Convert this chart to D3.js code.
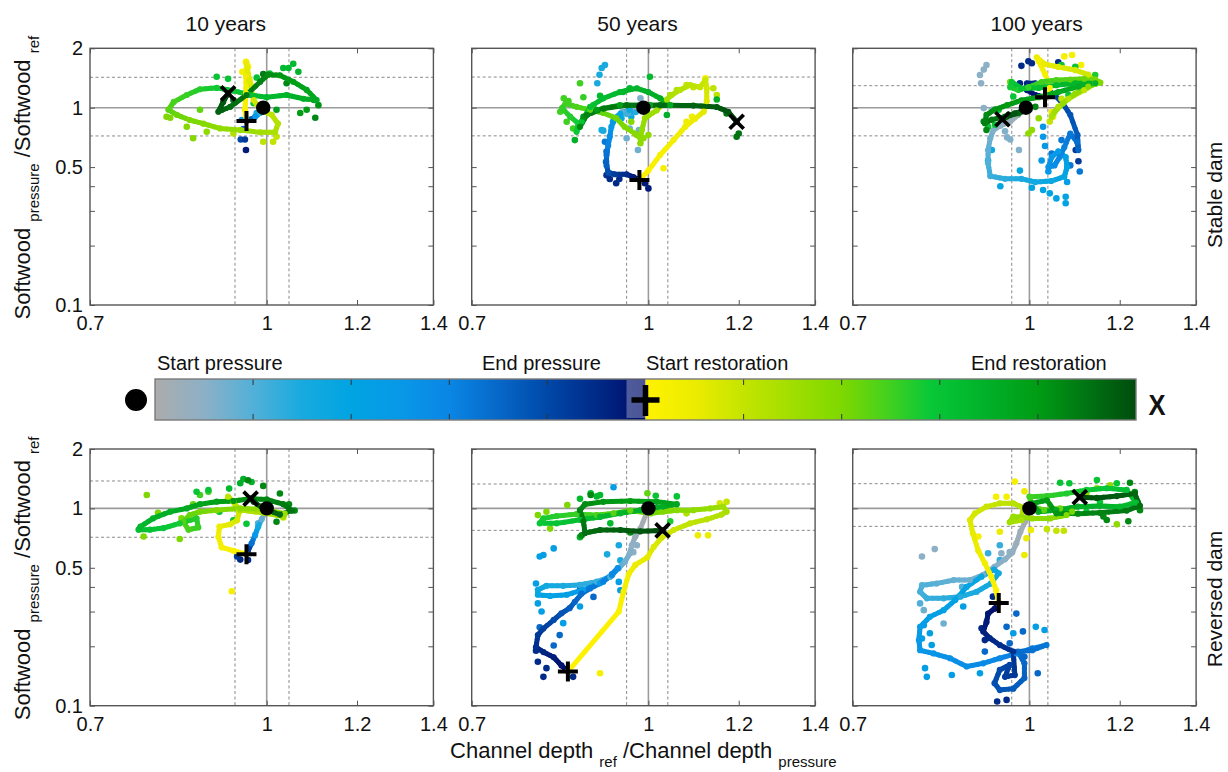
<!DOCTYPE html>
<html><head><meta charset="utf-8">
<script src="https://cdn.jsdelivr.net/npm/d3@7"></script>
<style>
body{margin:0;background:#fff}
text{font-family:"Liberation Sans",Arial,Helvetica,sans-serif;fill:#111}
</style>
</head><body>
<svg id="c" width="1228" height="772"></svg>
<script>
// ---------- axis / label data ----------
const xTicks = [0.7, 1, 1.2, 1.4];
const yTicks = [0.1, 0.2, 0.3, 0.4, 0.5, 1, 2];
const yTickLabels = [0.1, 0.5, 1, 2];
const columnTitles = ["10 years", "50 years", "100 years"];
const rowLabels = ["Stable dam", "Reversed dam"];
const colorbarLabels = ["Start pressure", "End pressure", "Start restoration", "End restoration"];

// colour scale stops (time fraction within phase)
const pressureStopPos = [0, 0.1, 0.2, 0.3, 0.4, 0.5, 0.6, 0.7, 0.8, 0.9, 1];
const pressureStopColors = ["#acacac","#8cb0c6","#52b0d8","#18aadf","#00a4e2","#0898e8","#0a86e4","#0668c8","#0048a8","#002a88","#000a66"];
const restorationStopPos = [0, 0.1, 0.2, 0.3, 0.4, 0.5, 0.58, 0.7, 0.8, 0.9, 1];
const restorationStopColors = ["#fff200","#ecec00","#c4e400","#a0de00","#7ed800","#40d020","#08c838","#00b028","#009c14","#007412","#004c0e"];

// reference bands (dashed) per panel: [low, high]
const refXBands = [[0.938,1.046],[0.957,1.040],[0.965,1.038],[0.938,1.046],[0.957,1.040],[0.965,1.038]];
const refYBands = [[0.719,1.426],[0.72,1.43],[0.72,1.293],[0.714,1.377],[0.774,1.329],[0.811,1.334]];

// ---------- Stable dam, 10 years ----------
const stable10Markers = [[0.993,1.0],[0.96,0.856],[0.925,1.183]];
const stable10Pressure = [[0.993,1.0],[0.987,0.94],[0.977,0.90],[0.967,0.87],[0.96,0.856]];
const stable10PressureDots = [[0.98,0.94,0.3],[0.951,0.866,0.5],[0.954,0.78,0.7],[0.949,0.69,0.8],[0.957,0.69,0.85],[0.959,0.61,0.95]];
const stable10Restoration = [[0.96,0.856],[0.957,0.977],[0.959,1.183],[0.959,1.436],[0.96,1.679],[0.966,1.38],[0.974,1.094],[0.987,0.977],[1.01,0.92],[1.023,0.83],[1.017,0.75],[0.987,0.75],[0.948,0.77],[0.91,0.785],[0.88,0.83],[0.856,0.866],[0.834,0.92],[0.82,0.977],[0.829,1.07],[0.851,1.16],[0.874,1.24],[0.904,1.26],[0.935,1.22],[0.967,1.16],[1.0,1.13],[1.041,1.16],[1.077,1.11],[1.106,1.094],[1.084,1.23],[1.055,1.354],[1.027,1.46],[1.003,1.47],[0.987,1.354],[0.96,1.16],[0.929,1.01],[0.907,0.954],[0.916,1.07],[0.925,1.183]];
const stable10RestorationDots = [[0.959,1.71,0.05],[0.963,1.61,0.05],[0.952,1.52,0.05],[0.967,1.33,0.08],
[1.02,0.713,0.2],[1.013,0.672,0.2],[0.993,0.672,0.22],[0.935,0.74,0.25],
[0.817,0.9,0.4],[0.823,0.89,0.4],[0.862,0.70,0.38],[0.851,0.80,0.38],[0.886,0.755,0.35],[0.874,0.977,0.45],
[0.904,1.436,0.6],[0.925,1.40,0.6],[0.98,1.42,0.62],[1.034,1.59,0.65],[1.045,1.59,0.65],[1.055,1.67,0.65],[1.066,1.52,0.68],[1.006,1.49,0.62],[0.974,1.053,0.58],
[1.1,1.094,0.8],[1.11,1.03,0.82],[1.103,0.89,0.85],[1.084,0.977,0.8],[1.07,0.94,0.8],[1.041,1.33,0.85],[1.02,0.977,0.78],[0.993,1.48,0.88],[0.935,1.094,0.9]];

// ---------- Stable dam, 50 years ----------
const stable50Markers = [[0.99,1.0],[0.982,0.43],[1.195,0.849]];
const stable50Pressure = [[0.99,1.0],[0.975,0.98],[0.96,0.96],[0.948,0.95],[0.958,0.93],[0.975,0.95],[0.962,0.975],[0.945,0.93],[0.934,0.885],[0.928,0.80],[0.925,0.713],[0.922,0.643],[0.919,0.576],[0.919,0.51],[0.922,0.47],[0.934,0.46],[0.957,0.46],[0.97,0.445],[0.982,0.43]];
const stable50PressureDots = [[0.984,1.116,0.12],[0.981,0.77,0.15],[0.957,0.70,0.15],[0.979,0.61,0.15],[0.963,0.785,0.15],
[0.91,1.59,0.3],[0.916,1.646,0.3],[0.906,1.47,0.3],[0.902,1.33,0.3],[0.91,0.77,0.3],[0.913,0.765,0.3],[0.947,0.885,0.35],[0.931,0.849,0.35],[0.957,0.935,0.35],[0.966,0.90,0.35],
[0.919,0.60,0.7],[0.918,0.532,0.72],[0.916,0.672,0.65],
[0.925,0.435,0.9],[0.937,0.414,0.9],[0.943,0.435,0.9],[1.0,0.39,0.95],[0.993,0.414,0.95],[0.919,0.455,0.88]];
const stable50Restoration = [[0.982,0.43],[1.0,0.48],[1.024,0.576],[1.052,0.685],[1.077,0.80],[1.099,0.88],[1.118,0.954],[1.125,1.08],[1.125,1.254],[1.122,1.382],
[1.11,1.27],[1.088,1.303],[1.066,1.23],[1.048,1.16],[1.038,1.10],
[1.017,0.97],[0.993,0.885],[0.987,0.77],[0.984,0.70],[0.973,0.74],[0.953,0.80],[0.937,0.885],
[0.913,0.94],[0.889,0.975],[0.865,1.01],[0.846,1.05],[0.84,0.995],[0.854,0.90],[0.868,0.833],[0.865,0.755],
[0.874,0.849],[0.889,1.01],[0.913,1.116],[0.944,1.20],[0.977,1.254],[1.0,1.20],[1.024,1.116],[1.045,1.03],
[1.003,1.03],[0.944,1.03],[0.901,0.975],[0.877,0.90],[0.871,0.80],[0.883,0.918],[0.913,0.99],[0.957,1.03],[1.024,1.03],[1.095,1.025],[1.148,1.008],[1.175,0.954],[1.195,0.849]];
const stable50RestorationDots = [[1.122,1.41,0.05],[1.031,0.493,0.05],[1.092,0.90,0.08],[1.08,0.849,0.08],
[1.08,1.303,0.2],[1.095,1.27,0.2],[1.14,1.254,0.22],[1.148,1.16,0.22],[1.059,1.23,0.25],[1.045,1.16,0.25],
[0.99,0.70,0.35],[0.984,0.66,0.35],[1.0,0.727,0.35],[0.977,0.727,0.38],[0.966,0.849,0.38],[0.997,0.94,0.35],
[0.843,1.116,0.5],[0.851,1.08,0.5],[0.837,0.954,0.5],[0.848,0.849,0.5],[0.859,0.785,0.5],[0.871,1.33,0.5],[0.877,1.13,0.52],[0.895,1.03,0.52],
[1.003,1.435,0.65],[0.963,1.254,0.65],[0.95,1.20,0.65],[0.862,0.685,0.7],[0.907,1.15,0.65],[1.148,1.10,0.7],[1.038,0.918,0.7],
[1.2,0.74,0.9],[1.195,0.713,0.9],[1.171,0.935,0.9]];

// ---------- Stable dam, 100 years ----------
const stable100Markers = [[0.993,1.0],[1.032,1.13],[0.947,0.874]];
const stable100Pressure = [[0.993,1.0],[0.978,0.92],[0.962,0.85],[0.943,0.81],[0.93,0.771],[0.924,0.70],[0.92,0.61],[0.92,0.523],[0.924,0.45],[0.952,0.436],[0.984,0.436],[1.012,0.42],[1.045,0.425],[1.073,0.447],[1.079,0.50],[1.076,0.562],[1.06,0.60],[1.046,0.562],[1.039,0.50],[1.052,0.51],[1.063,0.562],[1.073,0.63],[1.086,0.74],[1.101,0.67],[1.104,0.61],[1.102,0.727],[1.086,0.92],[1.07,1.05],[1.052,1.16],[1.032,1.26],[1.012,1.33],[0.995,1.33],[0.995,1.229],[1.012,1.16],[1.032,1.13]];
const stable100PressureDots = [[0.905,1.464,0.1],[0.912,1.56,0.1],[0.917,1.646,0.1],[0.907,1.33,0.1],[0.912,0.995,0.1],[0.927,0.975,0.1],[0.956,0.707,0.12],[0.962,0.69,0.12],[0.979,0.61,0.12],[0.952,0.76,0.12],
[0.927,0.61,0.35],[0.92,0.54,0.35],[0.943,0.40,0.38],[0.981,0.48,0.38],[1.005,0.393,0.4],[1.028,0.383,0.4],[1.042,0.368,0.4],[1.056,0.347,0.42],[1.076,0.354,0.42],[1.076,0.328,0.42],[1.079,0.42,0.45],[1.028,0.80,0.5],[1.028,0.713,0.5],[1.032,0.64,0.5],[1.025,0.54,0.5],[1.039,0.475,0.5],
[1.086,0.51,0.65],[1.107,0.475,0.65],[1.067,0.685,0.65],[1.046,0.586,0.65],
[0.984,1.63,0.9],[0.998,1.72,0.9],[1.005,1.68,0.9],[1.06,1.70,0.9],[0.981,1.33,0.9],[1.104,0.535,0.85],[1.098,0.61,0.85]];
const stable100Restoration = [[1.032,1.13],[1.042,1.26],[1.032,1.48],[1.019,1.72],[1.015,1.80],[1.032,1.66],[1.06,1.61],[1.097,1.55],[1.126,1.47],[1.142,1.33],[1.117,1.229],[1.082,1.11],[1.06,1.01],[1.046,0.90],
[1.052,0.95],[1.07,1.05],[1.097,1.18],[1.126,1.28],[1.154,1.34],
[1.142,1.39],[1.117,1.40],[1.086,1.39],[1.056,1.38],[1.025,1.35],[0.998,1.27],[0.978,1.23],[0.962,1.27],[0.965,1.35],
[0.984,1.25],[1.019,1.26],[1.056,1.30],[1.097,1.33],[1.142,1.33],[1.104,1.28],[1.06,1.2],[1.019,1.13],[0.984,1.09],[0.956,1.03],[0.933,0.98],[0.917,0.92],[0.914,0.834],
[0.927,0.87],[0.952,0.9],[0.978,0.937],[0.998,0.98],[0.971,0.937],[0.947,0.874]];
const stable100RestorationDots = [[1.09,1.85,0.05],[1.11,1.646,0.05],[1.073,1.82,0.05],[1.049,0.90,0.1],[1.046,0.95,0.1],
[1.042,0.85,0.2],[1.067,1.11,0.2],
[0.998,0.74,0.35],[1.005,0.77,0.35],[1.019,0.884,0.35],[0.962,1.35,0.4],[0.968,1.30,0.4],
[0.92,0.80,0.6],[0.933,0.82,0.6],[0.94,0.975,0.6],[0.968,1.14,0.6],[1.082,1.16,0.6],[1.142,1.464,0.55],[1.067,1.646,0.6],[1.097,1.61,0.6],
[0.912,0.85,0.85],[0.917,0.771,0.85],[0.959,0.92,0.85],[1.012,1.01,0.85]];

// ---------- Reversed dam, 10 years ----------
const reversed10Markers = [[1.0,1.0],[0.96,0.585],[0.968,1.12]];
const reversed10Pressure = [[1.0,1.0],[0.99,0.88],[0.983,0.808],[0.977,0.735],[0.97,0.665],[0.963,0.61],[0.96,0.585]];
const reversed10PressureDots = [[0.983,0.84,0.2],[0.948,0.55,0.9],[0.963,0.548,0.9],[0.942,0.57,0.85]];
const reversed10Restoration = [[0.96,0.585],[0.935,0.61],[0.913,0.635],[0.907,0.718],[0.909,0.808],[0.929,0.83],[0.942,0.87],[0.946,0.962],[0.935,1.081],[0.925,1.146],
[0.948,0.98],[0.993,0.95],[1.034,0.91],[1.037,0.94],[0.993,0.99],[0.948,1.0],[0.904,0.98],
[0.874,0.962],[0.856,0.925],[0.845,0.856],[0.854,0.78],[0.871,0.80],[0.868,0.89],[0.839,0.84],[0.812,0.795],[0.79,0.78],[0.772,0.78],
[0.775,0.808],[0.795,0.89],[0.823,0.962],[0.851,1.0],[0.874,1.05],[0.904,1.081],[0.935,1.09],
[0.967,1.12],[1.0,1.11],[1.034,1.05],[1.052,0.975],[1.027,0.93],[0.993,1.0],[0.974,1.08],[0.968,1.12]];
const reversed10RestorationDots = [[0.932,0.38,0.05],[0.925,1.12,0.05],[1.034,0.90,0.2],[1.013,0.95,0.2],
[0.785,1.17,0.4],[0.803,0.95,0.4],[0.842,0.89,0.4],[0.862,1.05,0.45],[0.839,0.70,0.4],[0.78,0.72,0.4],[0.874,1.17,0.5],[0.889,1.215,0.5],
[0.868,1.215,0.6],[0.889,1.24,0.6],[0.927,1.26,0.65],[0.948,1.34,0.7],[0.954,1.41,0.7],[0.97,1.36,0.7],[0.96,0.835,0.6],[0.935,0.87,0.6],[0.909,0.962,0.6],
[1.027,1.19,0.85],[1.046,1.05,0.85],[1.058,0.975,0.85],[1.02,0.856,0.85],[0.993,1.30,0.85],[0.963,1.39,0.85]];

// ---------- Reversed dam, 50 years ----------
const reversed50Markers = [[1.0,1.0],[0.85,0.149],[1.029,0.773]];
const reversed50Pressure = [[1.0,1.0],[0.984,0.79],[0.974,0.72],[0.967,0.65],[0.963,0.59],[0.954,0.537],[0.942,0.498],
[0.926,0.45],[0.901,0.425],[0.871,0.41],[0.842,0.405],[0.814,0.405],[0.8,0.387],
[0.8,0.365],[0.82,0.36],[0.848,0.365],[0.877,0.387],[0.907,0.418],[0.929,0.458],[0.94,0.498],
[0.929,0.465],[0.913,0.425],[0.889,0.393],[0.874,0.37],[0.862,0.336],[0.853,0.312],[0.839,0.294],
[0.826,0.272],[0.809,0.246],[0.8,0.228],[0.797,0.198],[0.809,0.187],[0.826,0.176],[0.839,0.16],[0.85,0.149]];
const reversed50PressureDots = [[0.977,0.65,0.1],[0.97,0.60,0.1],
[0.942,0.65,0.3],[0.945,0.545,0.3],[0.92,0.585,0.3],
[0.932,1.28,0.45],[0.826,0.627,0.45],[0.803,0.57,0.45],[0.809,0.58,0.45],[0.797,0.416,0.45],[0.806,0.30,0.45],[0.842,0.262,0.45],[0.945,0.385,0.45],[0.8,0.33,0.45],[0.871,0.318,0.45],[0.942,0.424,0.45],
[0.803,0.25,0.7],[0.836,0.228,0.7],[0.826,0.202,0.7],[0.895,0.356,0.7],[0.871,0.40,0.7],
[0.809,0.14,0.9],[0.814,0.155,0.9],[0.859,0.14,0.9],[0.797,0.19,0.9],[0.8,0.167,0.9]];
const reversed50Restoration = [[0.85,0.149],[0.942,0.30],[0.951,0.378],[0.961,0.465],[0.974,0.517],[0.998,0.565],[1.011,0.639],[1.027,0.71],[1.052,0.777],[1.088,0.84],[1.125,0.88],[1.159,0.93],[1.171,0.962],[1.163,1.02],
[1.133,1.0],[1.095,0.98],[1.059,0.98],[1.03,0.962],
[1.005,0.944],[0.964,0.975],[0.932,0.944],[0.901,0.925],[0.865,0.935],[0.831,0.915],[0.809,0.89],[0.803,0.84],[0.831,0.84],[0.871,0.875],
[0.907,0.905],[0.945,0.944],[0.984,0.98],[1.03,1.02],[1.059,1.05],[1.017,1.08],[0.964,1.09],[0.913,1.08],[0.88,1.05],[0.871,0.98],[0.877,0.86],
[0.88,0.75],[0.907,0.777],[0.945,0.777],[0.984,0.765],[1.029,0.773]];
const reversed50RestorationDots = [[0.907,0.146,0.05],[1.105,0.73,0.1],[1.128,0.73,0.1],[1.155,1.06,0.15],
[1.171,1.08,0.2],[1.08,0.944,0.25],[1.045,0.98,0.25],
[0.814,0.962,0.4],[0.82,0.79,0.4],[0.849,1.04,0.4],[0.8,0.925,0.4],[0.998,1.193,0.45],
[0.89,1.193,0.65],[0.901,1.15,0.65],[0.907,1.17,0.65],[0.871,1.12,0.65],[1.015,1.16,0.6],[1.059,1.15,0.6],[0.926,0.84,0.65],[1.045,0.86,0.55],[0.871,0.715,0.7],
[0.874,0.73,0.85],[0.89,1.17,0.85],[0.964,0.755,0.85]];

// ---------- Reversed dam, 100 years ----------
const reversed100Markers = [[1.0,1.0],[0.94,0.332],[1.107,1.14]];
const reversed100Pressure = [[1.0,1.0],[0.992,0.86],[0.982,0.762],[0.974,0.665],[0.966,0.597],[0.952,0.552],[0.932,0.506],[0.911,0.46],[0.887,0.433],[0.858,0.433],[0.829,0.416],[0.805,0.408],[0.802,0.378],[0.813,0.35],[0.841,0.35],[0.87,0.357],[0.899,0.378],[0.925,0.416],[0.94,0.469],
[0.931,0.49],[0.908,0.451],[0.881,0.40],[0.861,0.343],[0.841,0.305],[0.818,0.282],[0.802,0.251],[0.8,0.215],[0.802,0.191],[0.824,0.184],[0.852,0.174],[0.881,0.158],[0.911,0.164],[0.942,0.174],[0.974,0.184],[1.006,0.195],[1.035,0.203],
[1.006,0.191],[0.977,0.188],[0.99,0.164],[0.99,0.138],[0.968,0.122],[0.942,0.12],[0.932,0.13],[0.942,0.152],[0.961,0.161],[0.952,0.14],[0.971,0.143],
[0.968,0.188],[0.942,0.203],[0.923,0.22],[0.911,0.238],[0.917,0.265],[0.92,0.293],[0.932,0.31],[0.94,0.332]];
const reversed100PressureDots = [[0.805,0.57,0.1],[0.826,0.622,0.1],[0.808,0.305,0.15],[0.841,0.261,0.15],[0.945,0.592,0.1],[0.961,0.60,0.1],
[0.942,0.65,0.25],[0.92,0.592,0.25],[0.942,0.548,0.25],[0.802,0.33,0.2],[0.873,0.40,0.2],
[0.808,0.256,0.45],[0.818,0.233,0.45],[0.821,0.203,0.45],[0.81,0.155,0.45],[0.813,0.14,0.45],[0.855,0.143,0.45],[0.905,0.146,0.45],[0.968,0.233,0.45],[1.013,0.251,0.45],[1.031,0.242,0.45],[0.875,0.318,0.45],[0.805,0.219,0.45],
[0.955,0.251,0.7],[0.974,0.293,0.7],[0.987,0.238,0.7],[1.017,0.146,0.7],[0.961,0.207,0.7],[0.99,0.177,0.7],[0.914,0.188,0.7],
[0.937,0.105,0.9],[0.955,0.107,0.9],[0.914,0.215,0.9],[0.908,0.247,0.9],[0.929,0.357,0.9]];
const reversed100Restoration = [[0.94,0.332],[0.935,0.385],[0.926,0.451],[0.914,0.527],[0.902,0.61],[0.892,0.748],[0.887,0.873],[0.896,0.944],[0.917,1.02],[0.942,1.061],[0.968,1.061],[0.987,1.01],
[0.984,0.873],[0.961,0.85],[0.968,0.91],[1.006,0.89],[1.043,0.89],[1.078,0.925],[1.09,0.962],
[1.064,1.0],[1.03,0.98],[1.006,1.02],
[1.0,1.146],[1.036,1.155],[1.078,1.19],[1.122,1.24],[1.169,1.265],[1.217,1.24],[1.24,1.07],[1.2,1.02],[1.153,1.03],[1.103,1.02],[1.056,0.98],[1.018,0.962],[1.006,1.061],[1.036,1.10],
[1.056,0.944],[1.103,0.94],[1.153,0.95],[1.217,0.975],[1.25,1.03],[1.237,1.19],[1.193,1.155],[1.146,1.13],[1.107,1.14]];
const reversed100RestorationDots = [[0.971,1.367,0.05],[0.935,1.146,0.05],[0.955,1.146,0.05],[0.902,0.72,0.05],[0.99,0.58,0.1],[0.994,0.706,0.1],[1.003,0.777,0.1],[0.99,1.22,0.1],[0.942,0.762,0.1],
[1.036,0.785,0.2],[1.056,0.77,0.2],[1.072,0.77,0.2],[0.974,0.873,0.2],
[1.146,1.265,0.35],[1.177,1.31,0.35],[1.122,1.19,0.35],[1.193,0.83,0.35],
[1.064,1.35,0.6],[1.084,1.34,0.6],[1.146,1.393,0.6],[1.193,1.341,0.6],[1.153,1.08,0.6],[1.122,0.962,0.6],
[1.225,1.35,0.85],[1.25,0.98,0.85],[1.221,0.86,0.85],[1.169,0.873,0.85],[1.161,0.91,0.85],[1.237,1.21,0.85]];

// ---------- layout ----------
const W = 343.4, H = 256.7;
const colLeft = [90, 471.7, 852.7];
const rowTop = [48.3, 449];
const titleX = [225.8, 637.5, 1036.7];
const rowLabelY = [195, 599];

const panels = [
  {row:0,col:0,m:stable10Markers,p:stable10Pressure,pd:stable10PressureDots,r:stable10Restoration,rd:stable10RestorationDots},
  {row:0,col:1,m:stable50Markers,p:stable50Pressure,pd:stable50PressureDots,r:stable50Restoration,rd:stable50RestorationDots},
  {row:0,col:2,m:stable100Markers,p:stable100Pressure,pd:stable100PressureDots,r:stable100Restoration,rd:stable100RestorationDots},
  {row:1,col:0,m:reversed10Markers,p:reversed10Pressure,pd:reversed10PressureDots,r:reversed10Restoration,rd:reversed10RestorationDots},
  {row:1,col:1,m:reversed50Markers,p:reversed50Pressure,pd:reversed50PressureDots,r:reversed50Restoration,rd:reversed50RestorationDots},
  {row:1,col:2,m:reversed100Markers,p:reversed100Pressure,pd:reversed100PressureDots,r:reversed100Restoration,rd:reversed100RestorationDots}
];

const pColor = d3.scaleLinear().domain(pressureStopPos).range(pressureStopColors).interpolate(d3.interpolateRgb).clamp(true);
const rColor = d3.scaleLinear().domain(restorationStopPos).range(restorationStopColors).interpolate(d3.interpolateRgb).clamp(true);

const svg = d3.select("#c");
const defs = svg.append("defs");

function drawTrack(g, pts, cs, sx, sy) {
  const n = pts.length;
  const k = 3;
  pts.slice(0, -1).forEach((p, i) => {
    const q = pts[i + 1];
    const ax = sx(p[0]), ay = sy(p[1]), bx = sx(q[0]), by = sy(q[1]);
    for (let j = 0; j < k; j++) {
      const t = (i + (j + 0.5) / k) / (n - 1);
      g.append("line")
        .attr("x1", ax + (bx - ax) * j / k).attr("y1", ay + (by - ay) * j / k)
        .attr("x2", ax + (bx - ax) * (j + 1) / k).attr("y2", ay + (by - ay) * (j + 1) / k)
        .attr("stroke", cs(t)).attr("stroke-width", 5).attr("stroke-linecap", "round");
    }
  });
  g.selectAll(null).data(pts).join("circle")
    .attr("cx", d => sx(d[0])).attr("cy", d => sy(d[1])).attr("r", 3.1)
    .attr("fill", (d, i) => cs(i / (n - 1)));
}
function drawDots(g, dots, cs, sx, sy) {
  g.selectAll(null).data(dots).join("circle")
    .attr("cx", d => sx(d[0])).attr("cy", d => sy(d[1])).attr("r", 3.3)
    .attr("fill", d => cs(d[2]));
}

panels.forEach((P, idx) => {
  const left = colLeft[P.col], top = rowTop[P.row];
  const x = d3.scaleLog().domain([0.7, 1.4]).range([left, left + W]);
  const y = d3.scaleLog().domain([0.1, 2]).range([top + H, top]);
  const g = svg.append("g");

  const cid = "clip" + idx;
  defs.append("clipPath").attr("id", cid).append("rect")
    .attr("x", left).attr("y", top).attr("width", W).attr("height", H);

  // reference lines
  const rg = g.append("g").attr("clip-path", `url(#${cid})`);
  refXBands[idx].forEach(v => rg.append("line").attr("x1", x(v)).attr("x2", x(v)).attr("y1", top).attr("y2", top + H)
    .attr("stroke", "#8a8a8a").attr("stroke-width", 1).attr("stroke-dasharray", "3,2.5"));
  refYBands[idx].forEach(v => rg.append("line").attr("y1", y(v)).attr("y2", y(v)).attr("x1", left).attr("x2", left + W)
    .attr("stroke", "#8a8a8a").attr("stroke-width", 1).attr("stroke-dasharray", "3,2.5"));
  rg.append("line").attr("x1", x(1)).attr("x2", x(1)).attr("y1", top).attr("y2", top + H).attr("stroke", "#9c9c9c").attr("stroke-width", 1.6);
  rg.append("line").attr("y1", y(1)).attr("y2", y(1)).attr("x1", left).attr("x2", left + W).attr("stroke", "#9c9c9c").attr("stroke-width", 1.6);

  // data
  const dg = g.append("g").attr("clip-path", `url(#${cid})`);
  drawDots(dg, P.pd, pColor, x, y);
  drawTrack(dg, P.p, pColor, x, y);
  drawDots(dg, P.rd, rColor, x, y);
  drawTrack(dg, P.r, rColor, x, y);

  // markers
  const [s, tp, e] = P.m;
  g.append("circle").attr("cx", x(s[0])).attr("cy", y(s[1])).attr("r", 7.2).attr("fill", "#000");
  const px = x(tp[0]), py = y(tp[1]);
  g.append("path").attr("d", `M${px-10},${py}H${px+10}M${px},${py-10}V${py+10}`).attr("stroke", "#000").attr("stroke-width", 4).attr("fill", "none");
  const ex = x(e[0]), ey = y(e[1]);
  g.append("path").attr("d", `M${ex-7},${ey-7}L${ex+7},${ey+7}M${ex-7},${ey+7}L${ex+7},${ey-7}`).attr("stroke", "#000").attr("stroke-width", 3.8).attr("fill", "none");

  // axes (ticks inside on all four sides)
  const ax = g.append("g").attr("color", "#555");
  ax.append("g").attr("transform", `translate(0,${top + H})`)
    .call(d3.axisBottom(x).tickValues(xTicks).tickSizeInner(-5).tickSizeOuter(0).tickPadding(11).tickFormat(d => String(d)));
  ax.append("g").attr("transform", `translate(0,${top})`)
    .call(d3.axisTop(x).tickValues(xTicks).tickSizeInner(-5).tickSizeOuter(0).tickFormat(""));
  ax.append("g").attr("transform", `translate(${left},0)`)
    .call(d3.axisLeft(y).tickValues(yTicks).tickSizeInner(-5).tickSizeOuter(0).tickPadding(7)
      .tickFormat(d => (P.col === 0 && yTickLabels.includes(d)) ? String(d) : ""));
  ax.append("g").attr("transform", `translate(${left + W},0)`)
    .call(d3.axisRight(y).tickValues(yTicks).tickSizeInner(-5).tickSizeOuter(0).tickFormat(""));
  ax.selectAll(".domain").remove();
  ax.selectAll("text").attr("font-size", 20).attr("font-family", "Liberation Sans, Arial, sans-serif").style("fill", "#111");

  g.append("rect").attr("x", left).attr("y", top).attr("width", W).attr("height", H)
    .attr("fill", "none").attr("stroke", "#555").attr("stroke-width", 1.4);
});

// column titles
columnTitles.forEach((t, i) => svg.append("text").attr("x", titleX[i]).attr("y", 31)
  .attr("text-anchor", "middle").attr("font-size", 21).text(t));

// row labels (right)
rowLabels.forEach((t, i) => svg.append("text")
  .attr("transform", `translate(1222,${rowLabelY[i]}) rotate(-90)`)
  .attr("text-anchor", "middle").attr("font-size", 21).text(t));

// y axis titles
rowTop.forEach(top => {
  const t = svg.append("text").attr("transform", `translate(30,${top + H / 2 + 1}) rotate(-90)`)
    .attr("text-anchor", "middle").attr("font-size", 22);
  t.append("tspan").text("Softwood ");
  t.append("tspan").attr("font-size", 15).attr("dy", 9).text("pressure");
  t.append("tspan").attr("dy", -9).text(" /Softwood ");
  t.append("tspan").attr("font-size", 15).attr("dy", 9).text("ref");
});

// x axis title
{
  const t = svg.append("text").attr("x", colLeft[1] + W / 2).attr("y", 758)
    .attr("text-anchor", "middle").attr("font-size", 22);
  t.append("tspan").text("Channel depth ");
  t.append("tspan").attr("font-size", 15).attr("dy", 9).text("ref");
  t.append("tspan").attr("dy", -9).text(" /Channel depth ");
  t.append("tspan").attr("font-size", 15).attr("dy", 9).text("pressure");
}

// ---------- colour bar ----------
const cbLeft = 155, cbRight = 1136, cbTop = 379, cbBottom = 420;
const cbMid = (cbLeft + cbRight) / 2;
const gp = defs.append("linearGradient").attr("id", "gp");
pressureStopPos.forEach((p, i) => gp.append("stop").attr("offset", p).attr("stop-color", pressureStopColors[i]));
const gr = defs.append("linearGradient").attr("id", "gr");
restorationStopPos.forEach((p, i) => gr.append("stop").attr("offset", p).attr("stop-color", restorationStopColors[i]));
svg.append("rect").attr("x", cbLeft).attr("y", cbTop).attr("width", cbMid - cbLeft).attr("height", cbBottom - cbTop).attr("fill", "url(#gp)");
svg.append("rect").attr("x", cbMid).attr("y", cbTop).attr("width", cbRight - cbMid).attr("height", cbBottom - cbTop).attr("fill", "url(#gr)");
const seg = (cbRight - cbLeft) / 10;
d3.range(1, 10).filter(i => i !== 5).forEach(i => {
  const xx = cbLeft + i * seg;
  svg.append("line").attr("x1", xx).attr("x2", xx).attr("y1", cbTop).attr("y2", cbTop + 6).attr("stroke", "#333").attr("stroke-width", 1);
  svg.append("line").attr("x1", xx).attr("x2", xx).attr("y1", cbBottom - 6).attr("y2", cbBottom).attr("stroke", "#333").attr("stroke-width", 1);
});
svg.append("rect").attr("x", cbLeft).attr("y", cbTop).attr("width", cbRight - cbLeft).attr("height", cbBottom - cbTop)
  .attr("fill", "none").attr("stroke", "#7a7a7a").attr("stroke-width", 1.4);
svg.append("rect").attr("x", cbMid - 19).attr("y", cbTop + 1).attr("width", 19).attr("height", cbBottom - cbTop - 3)
  .attr("fill", "#ffffff").attr("fill-opacity", 0.3);
svg.append("path").attr("d", `M${cbMid-14},${400}H${cbMid+14}M${cbMid},${385}V${416}`).attr("stroke", "#000").attr("stroke-width", 5.5);
svg.append("circle").attr("cx", 136).attr("cy", 400).attr("r", 11).attr("fill", "#000");
svg.append("text").attr("x", 1157).attr("y", 415).attr("text-anchor", "middle").attr("font-size", 30)
  .attr("font-weight", "bold").attr("transform", "translate(1157,0) scale(0.85,1) translate(-1157,0)").text("X");
const cbLabelX = [157, 482, 646, 971];
colorbarLabels.forEach((t, i) => svg.append("text").attr("x", cbLabelX[i]).attr("y", 370).attr("font-size", 20).text(t));
</script>
</body></html>
